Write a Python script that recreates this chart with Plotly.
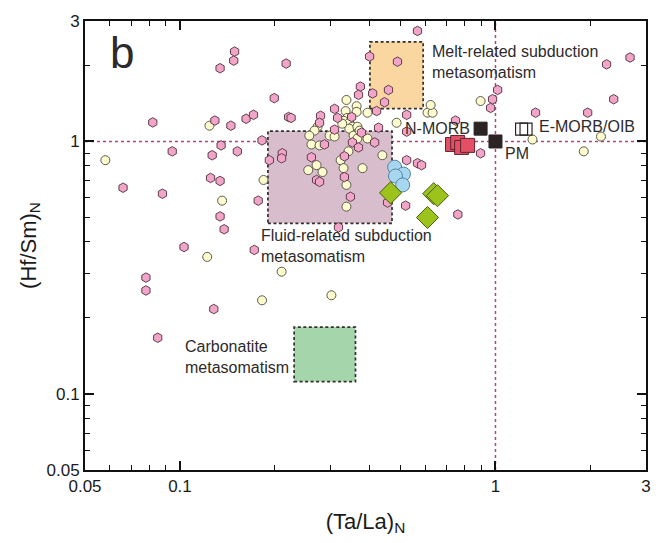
import math
import plotly.graph_objects as go

# ---------------------------------------------------------------
# Mantle peridotite compilation: (Ta/La)N vs (Hf/Sm)N
# ---------------------------------------------------------------

# Literature peridotites, group 1 (pink hexagons)
lit1_ta_la = [0.149, 0.148, 0.134, 0.082, 0.129, 0.145, 0.162, 0.171, 0.182, 0.0945,
              0.135, 0.1265, 0.152, 0.125, 0.134, 0.192, 0.066, 0.088, 0.177, 0.134,
              0.138, 0.103, 0.172, 0.078, 0.078, 0.128, 0.085, 0.566, 0.217, 0.399,
              0.489, 0.373, 0.368, 0.408, 0.458, 0.445, 0.199, 0.221, 0.225, 0.42,
              0.523, 0.747, 0.309, 0.279, 0.277, 0.316, 0.35, 0.426, 0.309, 0.376,
              0.414, 0.287, 0.352, 0.368, 0.211, 0.21, 0.261, 0.332, 0.523, 0.566,
              0.583, 0.271, 0.277, 0.332, 0.347, 0.455, 0.519, 0.318, 0.76, 0.979,
              0.965, 1.016, 2.67, 2.25, 2.37, 1.96, 1.34, 0.897, 0.523]
lit1_hf_sm = [2.27, 2.09, 1.95, 1.19, 1.21, 1.155, 1.23, 1.275, 1.01, 0.914,
              0.965, 0.882, 0.914, 0.717, 0.698, 0.843, 0.656, 0.621, 0.583, 0.505,
              0.449, 0.382, 0.372, 0.289, 0.257, 0.217, 0.167, 2.74, 2.035, 2.17,
              2.07, 1.65, 1.53, 1.55, 1.60, 1.43, 1.485, 1.25, 1.24, 1.32,
              1.275, 1.21, 1.346, 1.264, 1.186, 1.24, 1.25, 1.134, 1.114, 1.084,
              0.991, 0.973, 0.991, 0.947, 0.898, 0.858, 0.866, 0.874, 0.843, 0.82,
              0.806, 0.704, 0.692, 0.723, 0.604, 0.573, 0.557, 0.457, 0.514, 1.47,
              1.358, 1.60, 2.15, 2.02, 1.47, 1.30, 1.30, 0.898, 1.094]

# Literature peridotites, group 2 (pale circles)
lit2_ta_la = [0.058, 0.124, 0.184, 0.136, 0.122, 0.182, 0.21, 0.302, 0.337, 0.363,
              0.393, 0.335, 0.363, 0.486, 0.609, 0.632, 0.623, 0.339, 0.33, 0.344,
              0.352, 0.344, 0.365, 0.327, 0.273, 0.267, 0.257, 0.298, 0.309, 0.355,
              0.365, 0.393, 0.261, 0.277, 0.342, 0.323, 0.438, 0.271, 0.255, 0.283,
              0.33, 0.379, 0.337, 0.337, 0.897, 1.31, 2.16, 1.905, 0.371]
lit2_hf_sm = [0.843, 1.155, 0.704, 0.583, 0.349, 0.235, 0.305, 0.246, 1.46, 1.38,
              1.30, 1.32, 1.31, 1.186, 1.30, 1.30, 1.395, 1.24, 1.208, 1.186,
              1.144, 1.124, 1.144, 1.176, 1.144, 1.104, 1.055, 1.055, 1.046, 1.055,
              1.027, 1.027, 0.973, 0.965, 0.914, 0.843, 0.882, 0.806, 0.77, 0.757,
              0.784, 0.784, 0.673, 0.552, 1.446, 1.018, 1.046, 0.914, 1.104]

# This study
blue_ta_la = [0.479, 0.511, 0.482, 0.508]
blue_hf_sm = [0.791, 0.743, 0.730, 0.673]
green_ta_la = [0.465, 0.637, 0.655, 0.609]
green_hf_sm = [0.626, 0.621, 0.610, 0.500]
red_ta_la = [0.731, 0.759, 0.781, 0.816]
red_hf_sm = [0.973, 0.991, 0.947, 0.965]

# Reference reservoirs
nmorb = (0.897, 1.124)
pm = (1.0, 1.0)
emorb_oib_ta_la = [1.21, 1.25]
emorb_oib_hf_sm = [1.12, 1.12]

# Metasomatic fields: (x0, x1, y0, y1, fill)
melt_field = (0.40, 0.59, 1.35, 2.48, "#FAD6A0")
fluid_field = (0.19, 0.47, 0.474, 1.10, "#D8BECC")
carb_field = (0.23, 0.36, 0.112, 0.184, "#A5D5AA")

x_range = (0.05, 3)
y_range = (0.05, 3)
major_ticks = [0.05, 0.1, 1, 3]
major_text = ["0.05", "0.1", "1", "3"]
minor_ticks = [0.06, 0.07, 0.08, 0.09, 0.2, 0.3, 0.4, 0.5, 0.6, 0.7, 0.8, 0.9, 2]

FONT = "Arial, Liberation Sans, Helvetica, sans-serif"
TXT = "#2e2a2b"
REF = "#B0447C"

fig = go.Figure()

# reference lines at PM = 1
shapes = [
    dict(type="line", xref="x", yref="y", x0=x_range[0], x1=x_range[1], y0=1, y1=1,
         line=dict(color=REF, width=1.5, dash="3px,3px"), layer="below"),
    dict(type="line", xref="x", yref="y", x0=1, x1=1, y0=y_range[0], y1=y_range[1],
         line=dict(color=REF, width=1.5, dash="3px,3px"), layer="below"),
]
for x0, x1, y0, y1, col in (melt_field, fluid_field, carb_field):
    shapes.append(dict(type="rect", xref="x", yref="y", x0=x0, x1=x1, y0=y0, y1=y1,
                       fillcolor=col, line=dict(color="#332e2f", width=1.7, dash="3px,2.5px"),
                       layer="below"))

fig.add_trace(go.Scatter(
    x=lit2_ta_la, y=lit2_hf_sm, mode="markers",
    marker=dict(symbol="circle", size=9, color="#FDFCCF",
                line=dict(color="#5e5a4c", width=1)),
    showlegend=False))
fig.add_trace(go.Scatter(
    x=lit1_ta_la, y=lit1_hf_sm, mode="markers",
    marker=dict(symbol="hexagon", size=9.5, color="#F2A5C9",
                line=dict(color="#5e3f4c", width=1)),
    showlegend=False))
fig.add_trace(go.Scatter(
    x=blue_ta_la, y=blue_hf_sm, mode="markers",
    marker=dict(symbol="circle", size=14, color="#A6D7EF",
                line=dict(color="#5584a3", width=1)),
    showlegend=False))
fig.add_trace(go.Scatter(
    x=green_ta_la, y=green_hf_sm, mode="markers",
    marker=dict(symbol="diamond", size=17, color="#9CC31C",
                line=dict(color="#4a5a10", width=1)),
    showlegend=False))
fig.add_trace(go.Scatter(
    x=red_ta_la, y=red_hf_sm, mode="markers",
    marker=dict(symbol="square", size=14, color="#E44F66",
                line=dict(color="#5a2630", width=1)),
    showlegend=False))
fig.add_trace(go.Scatter(
    x=[nmorb[0], pm[0]], y=[nmorb[1], pm[1]], mode="markers",
    marker=dict(symbol="square", size=13, color="#2b2324",
                line=dict(color="#2b2324", width=1)),
    showlegend=False))
fig.add_trace(go.Scatter(
    x=emorb_oib_ta_la, y=emorb_oib_hf_sm, mode="markers",
    marker=dict(symbol="square-open", size=12, color="#2b2324",
                line=dict(width=1.2)),
    showlegend=False))

lg = math.log10
annotations = [
    dict(text="b", xref="paper", yref="paper", x=0.041, y=0.989, xanchor="left",
         yanchor="top", showarrow=False, font=dict(family=FONT, size=44, color=TXT)),
    dict(text="Melt-related subduction<br>metasomatism", xref="x", yref="y",
         x=lg(0.62), y=lg(2.06), xanchor="left", yanchor="middle", align="left",
         showarrow=False, font=dict(family=FONT, size=16, color=TXT)),
    dict(text="Fluid-related subduction<br>metasomatism", xref="x", yref="y",
         x=lg(0.178), y=lg(0.384), xanchor="left", yanchor="middle", align="left",
         showarrow=False, font=dict(family=FONT, size=16, color=TXT)),
    dict(text="Carbonatite<br>metasomatism", xref="x", yref="y",
         x=lg(0.102), y=lg(0.14), xanchor="left", yanchor="middle", align="left",
         showarrow=False, font=dict(family=FONT, size=16, color=TXT)),
    dict(text="N-MORB", xref="x", yref="y", x=lg(0.84), y=lg(1.13),
         xanchor="right", yanchor="middle", showarrow=False,
         font=dict(family=FONT, size=16, color=TXT)),
    dict(text="E-MORB/OIB", xref="x", yref="y", x=lg(1.35), y=lg(1.15),
         xanchor="left", yanchor="middle", showarrow=False,
         font=dict(family=FONT, size=16, color=TXT)),
    dict(text="PM", xref="x", yref="y", x=lg(1.055), y=lg(0.895),
         xanchor="left", yanchor="middle", showarrow=False,
         font=dict(family=FONT, size=16, color=TXT)),
]

axis_common = dict(
    type="log", showgrid=False, zeroline=False,
    showline=True, linecolor="#111", linewidth=2, mirror="allticks",
    ticks="inside", ticklen=9, tickwidth=1.5, tickcolor="#111",
    tickvals=major_ticks, ticktext=major_text,
    tickfont=dict(family=FONT, size=17, color="#1a1a1a"),
    minor=dict(tickvals=minor_ticks, ticks="inside", ticklen=5, tickwidth=1.2,
               tickcolor="#111", showgrid=False),
)

fig.update_layout(
    width=663, height=543,
    margin=dict(l=85, r=17, t=16, b=73),
    paper_bgcolor="white", plot_bgcolor="white",
    shapes=shapes, annotations=annotations,
    xaxis=dict(axis_common, range=[lg(x_range[0]), lg(x_range[1])],
               title=dict(text="(Ta/La)<sub>N</sub>", standoff=18,
                          font=dict(family=FONT, size=22, color="#1a1a1a"))),
    yaxis=dict(axis_common, range=[lg(y_range[0]), lg(y_range[1])],
               title=dict(text="(Hf/Sm)<sub>N</sub>", standoff=4,
                          font=dict(family=FONT, size=22, color="#1a1a1a"))),
)

fig.write_html("out.html")
